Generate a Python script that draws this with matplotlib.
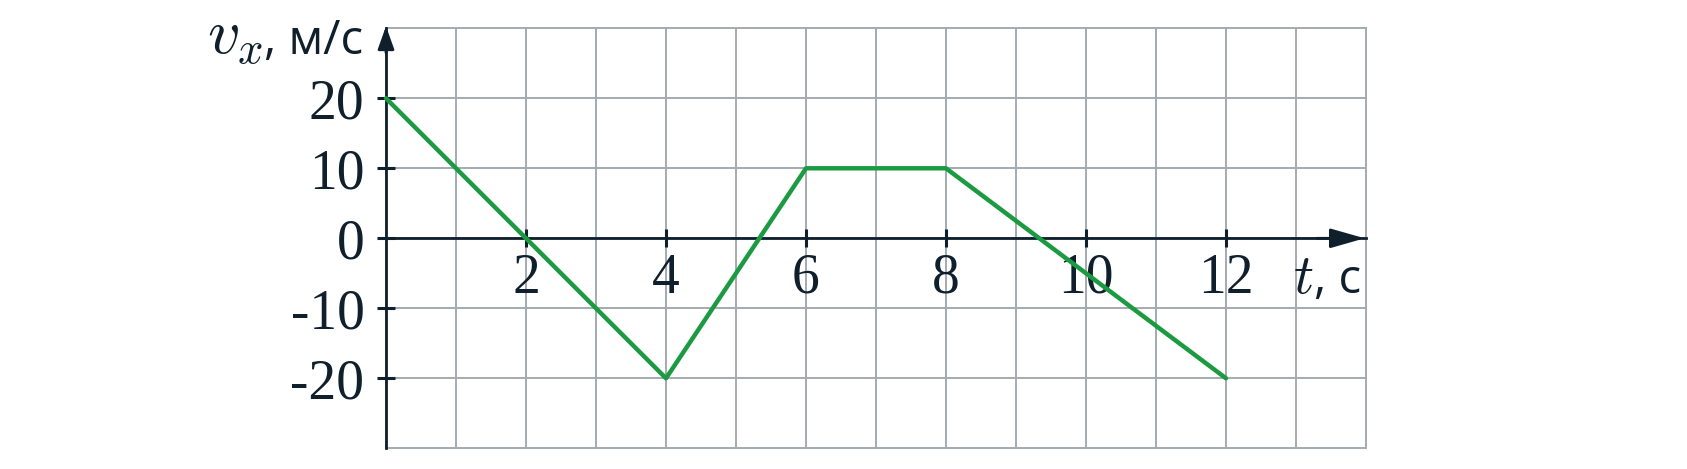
import numpy as np
import matplotlib
matplotlib.use("Agg")
import matplotlib.pyplot as plt

# data
t_vals = [0, 4, 6, 8, 12]
v_vals = [20, -20, 10, 10, -20]
x_ticks = [2, 4, 6, 8, 10, 12]
y_ticks = [-20, -10, 0, 10, 20]
y_tick_labels = ["-20", "-10", "0", "10", "20"]
x_sym, x_unit = "$t$", ", с"
y_sym, y_unit = "$v_x$", ", м/с"

plt.rcParams['mathtext.fontset'] = 'cm'

W, H = 1687, 469
fig = plt.figure(figsize=(W / 100, H / 100), dpi=100)
ax = fig.add_axes([386 / W, (H - 448.3) / H, 980 / W, 420 / H])
ax.set_xlim(0, 14)
ax.set_ylim(-30, 30)

grid_c = "#a3abb0"
axis_c = "#0f1f2c"
green = "#1c9a42"

for gx in np.arange(0, 15, 1):
    ax.axvline(gx, color=grid_c, lw=1.4, zorder=1, clip_on=False)
for gy in np.arange(-30, 31, 10):
    ax.axhline(gy, color=grid_c, lw=1.4, zorder=1, clip_on=False)

for s in ['top', 'right']:
    ax.spines[s].set_visible(False)
ax.spines['left'].set_position(('data', 0))
ax.spines['bottom'].set_position(('data', 0))
for s in ['left', 'bottom']:
    ax.spines[s].set_color(axis_c)
    ax.spines[s].set_linewidth(2)
    ax.spines[s].set_zorder(3)

ax.set_xticks(x_ticks)
ax.set_xticklabels([str(v) for v in x_ticks])
ax.set_yticks(y_ticks)
ax.set_yticklabels(y_tick_labels)
ax.tick_params(axis='both', direction='inout', length=13, width=2.2,
               color=axis_c, labelcolor=axis_c, labelsize=40)
ax.tick_params(axis='x', pad=4)
ax.tick_params(axis='y', pad=9)
for lab in ax.get_xticklabels() + ax.get_yticklabels():
    lab.set_family('Liberation Serif')

# arrows
ax.annotate('', xy=(0, 30.3), xytext=(0, 26.5),
            arrowprops=dict(arrowstyle='-|>,head_length=1.4,head_width=0.5',
                            color=axis_c, lw=2, shrinkA=0, shrinkB=0),
            annotation_clip=False, zorder=4)
ax.annotate('', xy=(13.98, 0), xytext=(13.3, 0),
            arrowprops=dict(arrowstyle='-|>,head_length=2.1,head_width=0.6',
                            color=axis_c, lw=2, shrinkA=0, shrinkB=0),
            annotation_clip=False, zorder=4)

ax.plot(t_vals, v_vals, color=green, lw=3.2, solid_joinstyle='round',
        solid_capstyle='round', zorder=5, clip_on=False)

renderer = fig.canvas.get_renderer()


def axis_label(sym, unit, right_px, base_px, sym_size):
    u = fig.text(right_px / W, 1 - base_px / H, unit, ha='right', va='baseline',
                 fontsize=34, color=axis_c, family=['Open Sans', 'DejaVu Sans'])
    bb = u.get_window_extent(renderer)
    fig.text(bb.x0 / W, 1 - base_px / H, sym, ha='right', va='baseline',
             fontsize=sym_size, color=axis_c)


axis_label(y_sym, y_unit, 363, 54, 46)
axis_label(x_sym, x_unit, 1361, 293, 40)

fig.savefig("out.png", dpi=100)
